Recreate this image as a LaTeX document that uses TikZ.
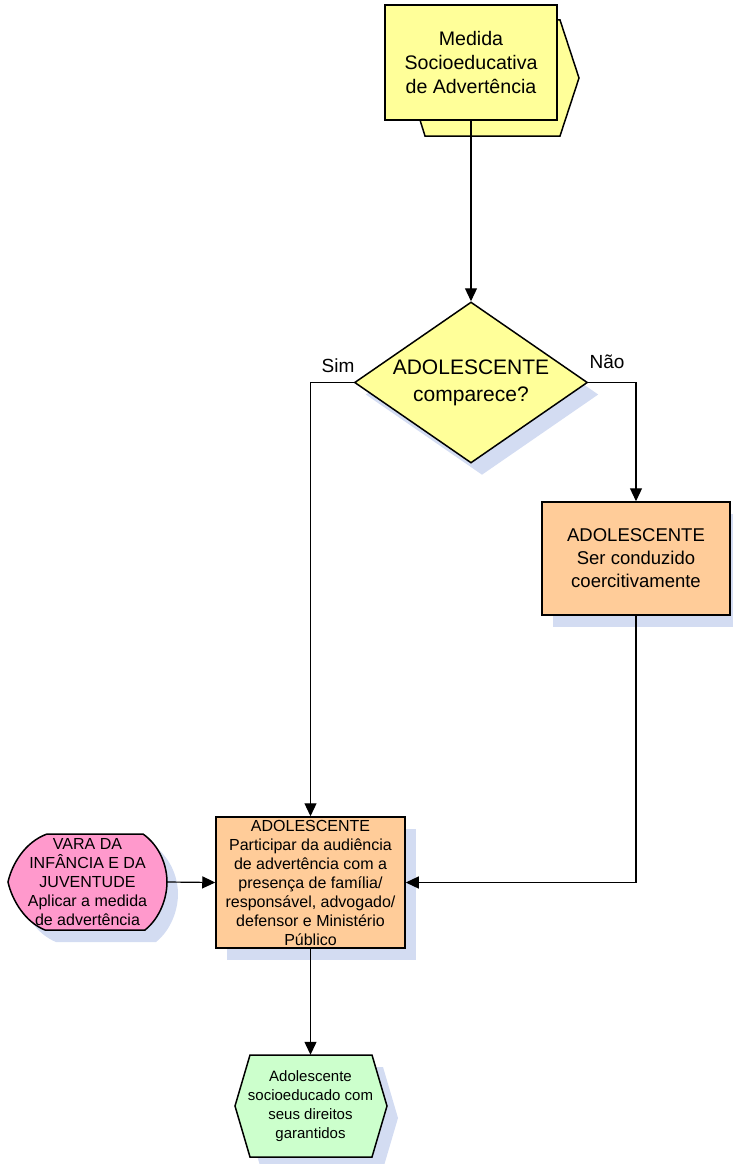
\documentclass[tikz,border=0pt]{standalone}
\usepackage{fontspec}
\setmainfont{Liberation Sans}
\usepackage{tikz}
\usetikzlibrary{arrows.meta}
\usetikzlibrary{shapes.geometric,shadows}
\definecolor{amarelo}{HTML}{FFFF99}
\definecolor{laranja}{HTML}{FFCC99}
\definecolor{rosa}{HTML}{FF99CC}
\definecolor{verde}{HTML}{CCFFCC}
\definecolor{sombra}{HTML}{D3DCF2}

\begin{document}
\begin{tikzpicture}[x=1pt,y=-1pt]
  \tikzset{sombreado/.style = {drop shadow={shadow xshift=11pt,shadow yshift=-12pt,opacity=1,fill=sombra}}}
  \tikzset{medida/.style = {shape=rectangle,draw,line width=1.5pt,fill=amarelo,minimum width=172pt,minimum height=115pt,inner sep=0pt,align=center,font=\fontsize{19.6}{24}\selectfont}}
  \tikzset{decisao/.style = {shape=diamond,shape aspect=1.45,draw,line width=1.5pt,fill=amarelo,minimum width=233pt,minimum height=161pt,inner sep=0pt,align=center,font=\fontsize{21}{27}\selectfont,sombreado}}
  \tikzset{acao/.style = {shape=rectangle,draw,line width=1.5pt,fill=laranja,inner sep=0pt,align=center,sombreado}}
  \tikzset{texto/.style = {inner sep=0pt,align=center}}
  \tikzset{rotulo/.style = {inner sep=0pt,font=\fontsize{19}{23}\selectfont}}
  \tikzset{edge/.style = {-tipF,line width=1.2pt}}
  \tikzset{%
  tipF/.tip={Triangle[length=13pt,width=12pt]},
}
  \useasboundingbox (0,0) rectangle (733,1164);

	% caixa de tras da medida
	\filldraw[fill=amarelo,line width=1.5pt] (420,20) -- (560,20) -- (579,78) -- (560,136) -- (425,136) -- (420,120) -- cycle;
	\node[medida] (M) at (471,62.5) {Medida\\Socioeducativa\\de Advertência};

	\node[decisao] (D) at (471,382.5) {ADOLESCENTE\\comparece?};
	\node[rotulo] (S) at (338,366) {Sim};
	\node[rotulo] (N) at (607,362) {Não};

	\node[acao,minimum width=188pt,minimum height=113pt,font=\fontsize{18.5}{23}\selectfont] (C) at (636,558.5) {ADOLESCENTE\\Ser conduzido\\coercitivamente};

	\node[acao,minimum width=189pt,minimum height=131pt,font=\fontsize{16}{19}\selectfont] (P) at (310.5,882.5) {ADOLESCENTE\\Participar da audiência\\de advertência com a\\presença de família/\\responsável, advogado/\\defensor e Ministério\\Público};

	% vara
	\path[draw,fill=rosa,line width=1.5pt,sombreado] (47,834) -- (143,834) .. controls (160,846) and (167,866) .. (167,882) .. controls (167,898) and (160,918) .. (145,930) -- (45,930) .. controls (25,922) and (12,900) .. (8,882) .. controls (12,864) and (25,842) .. (47,834) -- cycle;
	\node[texto,minimum width=159pt,minimum height=96pt,font=\fontsize{16}{19}\selectfont] (V) at (87.5,882) {VARA DA\\INFÂNCIA E DA\\JUVENTUDE\\Aplicar a medida\\de advertência};

	% resultado
	\path[draw,fill=verde,line width=1.5pt,sombreado] (250,1055) -- (372,1055) -- (387,1106) -- (372,1157) -- (250,1157) -- (235,1106) -- cycle;
	\node[texto,minimum width=152pt,minimum height=102pt,font=\fontsize{15}{19}\selectfont] (G) at (310.5,1106) {Adolescente\\socioeducado com\\seus direitos\\garantidos};

    \foreach \from/\to in {M.south/D.north,V.east/P.west,P.south/G.north}
    \path[edge](\from) edge (\to);

    \draw[edge] (D.west) -| (P.north);
    \draw[edge] (D.east) -| (C.north);
    \draw[edge] (C.south) |- (P.east);

\end{tikzpicture}
\end{document}
